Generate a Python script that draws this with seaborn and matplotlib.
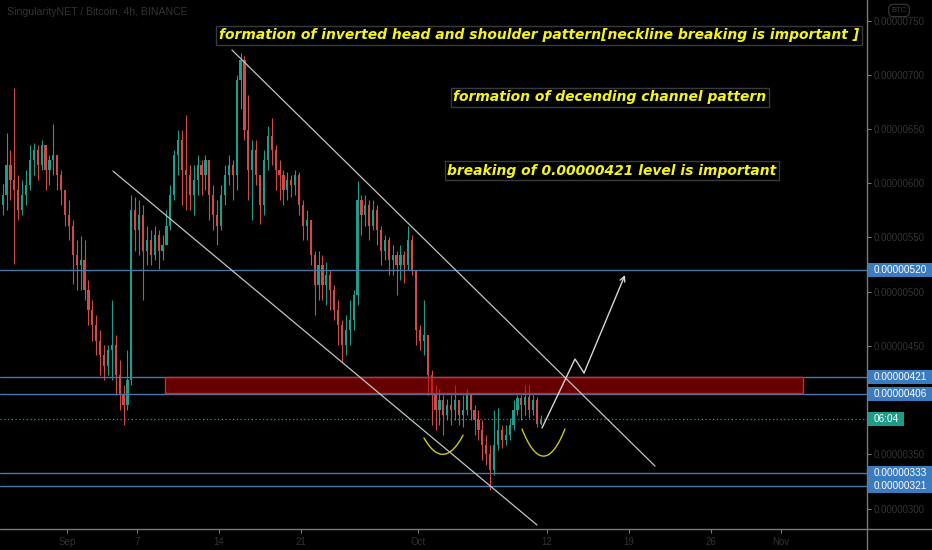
import numpy as np
import pandas as pd
import matplotlib
matplotlib.use("Agg")
import matplotlib.pyplot as plt
import matplotlib.transforms as mtransforms
from matplotlib.patches import Rectangle
import seaborn as sns

# ---------------- data (prices in units of 1e-8 BTC) ----------------
first_open = 580
close = [589, 617, 603, 594, 575, 589, 598, 621, 631, 617, 635, 612, 621, 626, 608, 594, 571, 561, 534, 525,
         529, 502, 483, 469, 455, 442, 432, 446, 451, 423, 405, 396, 419, 575, 557, 571, 538, 548, 534, 552,
         538, 543, 561, 589, 626, 640, 612, 608, 589, 603, 617, 608, 621, 589, 571, 561, 589, 608, 617, 608,
         695, 714, 649, 612, 631, 608, 580, 621, 644, 631, 612, 608, 594, 603, 598, 608, 580, 561, 566, 534,
         506, 525, 506, 515, 502, 483, 469, 451, 465, 474, 497, 585, 571, 580, 561, 575, 557, 538, 548, 529,
         534, 525, 534, 525, 548, 520, 465, 455, 460, 423, 405, 391, 400, 386, 396, 391, 400, 386, 391, 406,
         391, 382, 373, 359, 350, 336, 359, 373, 363, 368, 377, 391, 402, 396, 403, 391, 400, 378, 383]
high = [599, 646, 631, 688, 608, 603, 612, 635, 637, 635, 640, 631, 626, 655, 621, 612, 589, 585, 566, 548,
        551, 548, 511, 492, 479, 465, 451, 451, 492, 460, 437, 414, 446, 589, 587, 585, 580, 561, 557, 561,
        557, 552, 575, 598, 631, 649, 649, 663, 617, 617, 626, 621, 626, 621, 598, 585, 598, 617, 626, 621,
        700, 720, 717, 681, 640, 640, 608, 631, 653, 660, 635, 621, 612, 610, 608, 612, 610, 585, 575, 561,
        538, 538, 534, 527, 520, 506, 492, 474, 479, 492, 502, 602, 589, 589, 585, 585, 580, 561, 552, 550,
        543, 538, 543, 538, 561, 552, 520, 469, 492, 455, 428, 414, 410, 405, 401, 405, 414, 400, 405, 410,
        405, 396, 391, 382, 368, 359, 391, 393, 377, 377, 384, 400, 405, 405, 414, 414, 405, 403, 386]
low = [571, 575, 585, 526, 566, 571, 580, 594, 608, 603, 612, 594, 598, 608, 594, 580, 561, 548, 507, 502,
       502, 492, 469, 455, 442, 423, 419, 423, 419, 405, 391, 377, 391, 414, 538, 534, 492, 525, 525, 529,
       521, 529, 543, 557, 585, 608, 580, 575, 575, 571, 589, 589, 594, 566, 557, 543, 557, 580, 598, 585,
       594, 668, 640, 585, 566, 598, 562, 571, 612, 617, 594, 585, 580, 585, 587, 589, 571, 548, 548, 525,
       479, 492, 492, 488, 483, 474, 451, 435, 442, 451, 465, 488, 552, 561, 548, 557, 543, 525, 529, 515,
       515, 497, 511, 508, 520, 515, 451, 446, 442, 405, 377, 373, 377, 368, 382, 377, 382, 377, 375, 386,
       382, 368, 363, 345, 340, 317, 331, 354, 356, 359, 363, 373, 386, 382, 386, 384, 386, 375, 377]
first_candle = "2020-08-26 12:00"
candle_hours = 8
axis_origin = "2020-09-01"

x_tick_days = [0, 6, 13, 20, 30, 41, 48, 55, 61]
x_tick_labels = ["Sep", "7", "14", "21", "Oct", "12", "19", "26", "Nov"]
y_ticks = [300, 350, 450, 500, 550, 600, 650, 700, 750]
levels = [520, 421, 406, 333, 321]
last_price = 383
countdown = "06:04"
zone = (406.6, 421.4)  # red resistance zone

title = "SingularityNET / Bitcoin, 4h, BINANCE"
notes = ["formation of inverted head and shoulder pattern[neckline breaking is important ]",
         "formation of decending channel pattern",
         "breaking of 0.00000421 level is important"]

# drawings (day, price)
upper_channel = [(14.10, 722.8), (50.26, 339.3)]
lower_channel = [(3.93, 611.2), (40.17, 285.0)]
arrow_path = [(40.60, 374.4), (43.42, 438.0), (44.19, 425.1), (47.69, 515.4)]
arcs = [[(30.51, 365.2), (32.56, 351.3), (33.85, 367.8)],
        [(38.89, 373.5), (40.85, 348.6), (42.56, 373.5)]]

# ---------------- build table ----------------
n = len(close)
times = pd.date_range(first_candle, periods=n, freq=f"{candle_hours}h")
days = (times - pd.Timestamp(axis_origin)) / pd.Timedelta(days=1)
opens = [first_open] + close[:-1]
df = pd.DataFrame({"t": days, "open": opens, "close": close, "high": high, "low": low})
df["high"] = df[["high", "open", "close"]].max(axis=1)
df["low"] = df[["low", "open", "close"]].min(axis=1)
df["up"] = df["close"] >= df["open"]

UP, DOWN = "#1f9c8a", "#cf4a4a"
BG = "black"

sns.set_theme(style="dark", rc={"axes.facecolor": BG, "figure.facecolor": BG,
                                "axes.grid": False})
plt.rcParams["font.family"] = ["Liberation Sans", "DejaVu Sans"]

W, H = 932, 550
fig = plt.figure(figsize=(W / 100, H / 100), dpi=100)
ax = fig.add_axes([0, 21 / H, 867 / W, 529 / H])
ax.set_facecolor(BG)
px_day = 11.7
ax.set_xlim(-67 / px_day, 800 / px_day)
ax.set_ylim(281.3, 768.9)
for s in ax.spines.values():
    s.set_visible(False)

cols = np.where(df["up"], UP, DOWN)
ax.vlines(df["t"], df["low"], df["high"], colors=cols, lw=0.8, zorder=2)
body = (df["close"] - df["open"]).to_numpy(dtype=float)
body = np.where(np.abs(body) < 1.0, np.where(body >= 0, 1.0, -1.0), body)
ax.bar(df["t"], body, bottom=df["open"], width=0.18, color=cols, linewidth=0, zorder=2.5)

# level lines
for v in levels:
    ax.axhline(v, color="#4b78a4", lw=1.0, zorder=3)
ax.axhline(last_price, color="#1f9c8a", lw=0.9, ls=(0, (1, 2)), zorder=3)

# red zone
ax.add_patch(Rectangle((8.376, zone[0]), 62.9 - 8.376, zone[1] - zone[0],
                       facecolor=(0.72, 0.0, 0.0, 0.55), edgecolor="#d42828", lw=1.0, zorder=4))

# channel lines
for line in (upper_channel, lower_channel):
    xs, ys = zip(*line)
    ax.plot(xs, ys, color="#c4c4c4", lw=0.9, zorder=5)

# arrow
xs, ys = zip(*arrow_path[:-1])
ax.plot(xs, ys, color="#d6d6d6", lw=1.0, zorder=5, solid_joinstyle="miter")
ax.annotate("", xy=arrow_path[-1], xytext=arrow_path[-2],
            arrowprops=dict(arrowstyle="->", color="#d6d6d6", lw=1.0, mutation_scale=9,
                            shrinkA=0, shrinkB=0), zorder=5)

# yellow arcs
for arc in arcs:
    ax_, ay_ = zip(*arc)
    coef = np.polyfit(ax_, ay_, 2)
    xx = np.linspace(ax_[0], ax_[-1], 40)
    ax.plot(xx, np.polyval(coef, xx), color="#c9c81e", lw=1.0, zorder=5)

# ticks
ax.yaxis.tick_right()
ax.set_yticks(y_ticks)
ax.set_yticklabels([f"{v * 1e-8:.8f}" for v in y_ticks])
ax.set_xticks(x_tick_days)
ax.set_xticklabels(x_tick_labels)
ax.tick_params(axis="y", which="both", right=True, left=False, length=3, width=0.8,
               color="#7a7a7a", labelcolor="#333333", labelsize=7, pad=2)
ax.tick_params(axis="x", which="both", bottom=True, length=3, width=0.8,
               color="#7a7a7a", labelcolor="#333333", labelsize=7, pad=3)

# axis lines
fig.add_artist(plt.Line2D([867 / W, 867 / W], [0, 1], color="#7a7a7a", lw=1.0))
fig.add_artist(plt.Line2D([0, 1], [21 / H, 21 / H], color="#7a7a7a", lw=1.0))

# price label boxes
blend = mtransforms.blended_transform_factory(fig.transFigure, ax.transData)
box_h = 14 / 1.085
for v in levels:
    ax.add_patch(Rectangle((868 / W, v - box_h / 2), 64 / W, box_h, transform=blend,
                           facecolor="#3b7bbf", edgecolor="none", clip_on=False, zorder=6))
    ax.text(900 / W, v, f"{v * 1e-8:.8f}", transform=blend, ha="center", va="center",
            fontsize=7.2, color="white", clip_on=False, zorder=7)
ax.add_patch(Rectangle((868 / W, last_price - box_h / 2), 36 / W, box_h, transform=blend,
                       facecolor="#1d9c88", edgecolor="none", clip_on=False, zorder=6))
ax.text(886 / W, last_price, countdown, transform=blend, ha="center", va="center",
        fontsize=7.2, color="white", clip_on=False, zorder=7)

# title and badge
fig.text(7 / W, 1 - 12 / H, title, ha="left", va="center", fontsize=7.6, color="#333333")
fig.text(899 / W, 1 - 10.5 / H, "BTC", ha="center", va="center", fontsize=5.5, color="#3a3a3a",
         bbox=dict(boxstyle="round,pad=0.35,rounding_size=0.6", fc="none", ec="#3a3a3a", lw=0.8))

# annotation notes
note_pos = [(539, 35.5), (610, 97.5), (612, 170.5)]
for txt, (cx, cy) in zip(notes, note_pos):
    fig.text(cx / W, 1 - cy / H, txt, ha="center", va="center", fontsize=10,
             family="DejaVu Sans", weight="bold", style="italic", color="#f4f41c",
             bbox=dict(boxstyle="square,pad=0.2", fc="black", ec="#3a3a3a", lw=1.0), zorder=8)

fig.savefig("out.png", dpi=100, facecolor=BG)
